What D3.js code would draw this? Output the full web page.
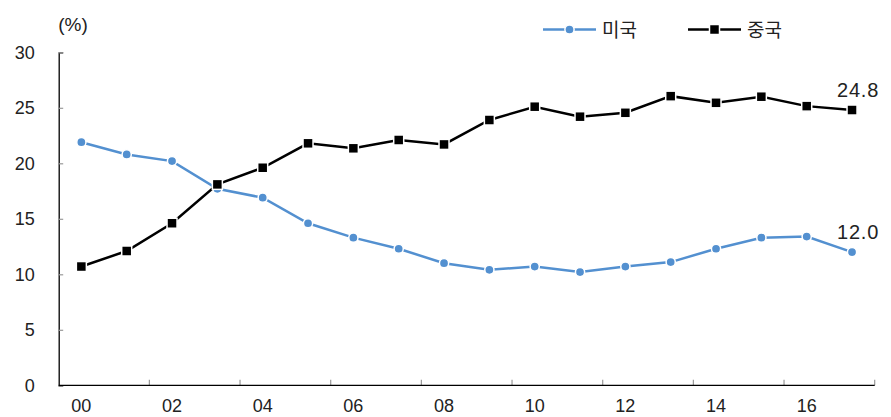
<!DOCTYPE html>
<html>
<head>
<meta charset="utf-8">
<script src="https://cdn.jsdelivr.net/npm/d3@7"></script>
<style>
  html, body { margin: 0; padding: 0; background: #fff; }
  svg { display: block; }
  text { font-family: "Liberation Sans", Arial, sans-serif; fill: #222; }
  .kr { font-family: "Noto Sans CJK KR", "Noto Sans", sans-serif; }
</style>
</head>
<body>
<svg id="chart" width="891" height="417"></svg>
<script>
// Share of world manufacturing output, US vs China (%)
const years = d3.range(2000, 2018);
const usValues = [21.9, 20.8, 20.2, 17.7, 16.9, 14.6, 13.3, 12.3, 11.0, 10.4, 10.7, 10.2, 10.7, 11.1, 12.3, 13.3, 13.4, 12.0];
const chinaValues = [10.7, 12.1, 14.6, 18.1, 19.6, 21.8, 21.35, 22.1, 21.7, 23.9, 25.1, 24.2, 24.55, 26.05, 25.45, 26.0, 25.15, 24.8];
const yTicks = [0, 5, 10, 15, 20, 25, 30];
const seriesNames = ["미국", "중국"];
const unitLabel = "(%)";

const blue = "#5390d0";
const black = "#000";

const svg = d3.select("#chart");
const margin = { left: 58.7, right: 891 - 874.7, top: 52.3, bottom: 417 - 385.3 };
const W = 891, H = 417;

const x = d3.scaleBand().domain(years).range([margin.left, W - margin.right]).padding(0);
const y = d3.scaleLinear().domain([0, 30]).range([H - margin.bottom, margin.top]);
const cx = d => x(d) + x.bandwidth() / 2;

// Y axis: ticks pointing inward, labels on the left
const yAxis = svg.append("g")
  .attr("transform", `translate(${margin.left},0)`)
  .call(d3.axisLeft(y).tickValues(yTicks).tickSize(-4.5).tickPadding(24));
yAxis.select(".domain").attr("stroke", "#000").attr("stroke-width", 1.3);
yAxis.selectAll(".tick line").attr("stroke", "#999").attr("stroke-width", 1.2);
yAxis.selectAll(".tick text").attr("font-size", 18).attr("fill", "#222")
  .style("font-family", "Liberation Sans, Arial, sans-serif");

// X axis: labels on even years, ticks at every second band boundary
const xAxis = svg.append("g")
  .attr("transform", `translate(0,${H - margin.bottom})`)
  .call(d3.axisBottom(x).tickValues(years.filter(d => d % 2 === 0))
    .tickSize(0).tickPadding(14)
    .tickFormat(d => String(d % 100).padStart(2, "0")));
xAxis.select(".domain").remove();
xAxis.selectAll(".tick text").attr("font-size", 18).attr("fill", "#222")
  .style("font-family", "Liberation Sans, Arial, sans-serif");

const tickXs = years.filter(d => d % 2 === 0 && d > years[0]).map(d => x(d)).concat([x.range()[1]]);
svg.append("g").selectAll("line").data(tickXs).join("line")
  .attr("x1", d => d).attr("x2", d => d)
  .attr("y1", y(0)).attr("y2", y(0) - 5.5)
  .attr("stroke", "#999").attr("stroke-width", 1.2);
svg.append("line")
  .attr("x1", margin.left).attr("x2", W - margin.right)
  .attr("y1", y(0)).attr("y2", y(0))
  .attr("stroke", "#000").attr("stroke-width", 1.3);

// Unit label
svg.append("text").attr("x", 73).attr("y", 31).attr("text-anchor", "middle")
  .attr("font-size", 19).text(unitLabel);

const line = d3.line().x((d, i) => cx(years[i])).y(d => y(d));

// US series
svg.append("path").datum(usValues).attr("d", line)
  .attr("fill", "none").attr("stroke", blue).attr("stroke-width", 2.5);
svg.append("g").selectAll("circle").data(usValues).join("circle")
  .attr("cx", (d, i) => cx(years[i])).attr("cy", d => y(d)).attr("r", 4.6)
  .attr("fill", blue).attr("stroke", "#fff").attr("stroke-width", 1.5);

// China series
svg.append("path").datum(chinaValues).attr("d", line)
  .attr("fill", "none").attr("stroke", black).attr("stroke-width", 2.5);
const sq = 10;
svg.append("g").selectAll("rect").data(chinaValues).join("rect")
  .attr("x", (d, i) => cx(years[i]) - sq / 2).attr("y", d => y(d) - sq / 2)
  .attr("width", sq).attr("height", sq)
  .attr("fill", black).attr("stroke", "#fff").attr("stroke-width", 1.5);

// End-value labels
const last = years.length - 1;
[chinaValues, usValues].forEach(vals => {
  svg.append("text").attr("x", cx(years[last]) + 6).attr("y", y(vals[last]) - 13)
    .attr("text-anchor", "middle").attr("font-size", 20).attr("letter-spacing", 0.8)
    .text(vals[last].toFixed(1));
});

// Legend
const legend = svg.append("g");
const items = [
  { name: seriesNames[0], color: blue, shape: "circle", x0: 543 },
  { name: seriesNames[1], color: black, shape: "square", x0: 688 }
];
items.forEach(it => {
  const g = legend.append("g").attr("transform", `translate(${it.x0},29.5)`);
  g.append("line").attr("x1", 0).attr("x2", 53).attr("y1", 0).attr("y2", 0)
    .attr("stroke", it.color).attr("stroke-width", 2.5);
  if (it.shape === "circle") {
    g.append("circle").attr("cx", 26.5).attr("cy", 0).attr("r", 4.6)
      .attr("fill", it.color).attr("stroke", "#fff").attr("stroke-width", 1.5);
  } else {
    g.append("rect").attr("x", 26.5 - sq / 2).attr("y", -sq / 2).attr("width", sq).attr("height", sq)
      .attr("fill", it.color).attr("stroke", "#fff").attr("stroke-width", 1.5);
  }
  g.append("text").attr("class", "kr").attr("x", 59).attr("y", 7)
    .attr("font-size", 19).text(it.name);
});
</script>
</body>
</html>
